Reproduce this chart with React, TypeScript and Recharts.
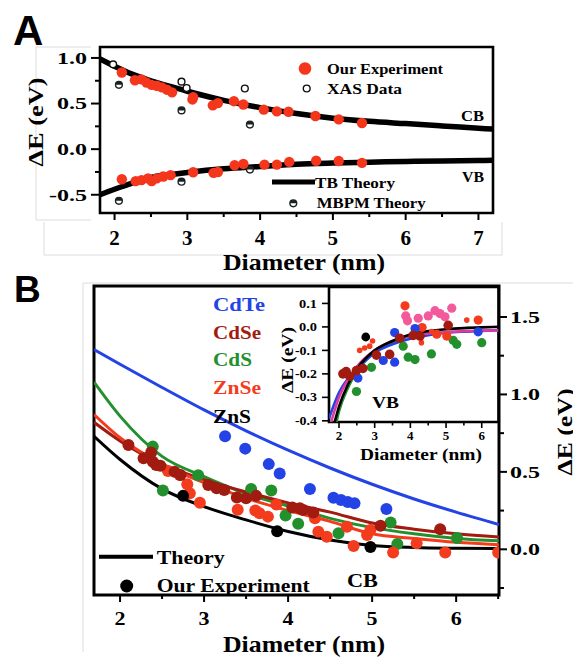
import { ComposedChart, Line, ReferenceArea, Scatter, XAxis, YAxis } from 'recharts';
import type { ReactNode } from 'react';

const SERIF = "'Liberation Serif', 'DejaVu Serif', 'Liberation Sans Narrow', 'Liberation Sans', sans-serif";
const SANS = "'Liberation Sans', Arial, Helvetica, sans-serif";

const RED = '#f4361c';
const CDTE = '#2343e6';
const CDSE = '#a11b10';
const CDS = '#23902e';
const ZNSE = '#f33b1d';
const PINK = '#f25a9c';
const MAGENTA = '#e2389e';

// ---------- panel A: CB / VB shifts ----------
const aXMajor = [2, 3, 4, 5, 6, 7];
const aXMinor = [2.5, 3.5, 4.5, 5.5, 6.5];
const aYMajor = [-0.5, 0, 0.5, 1];
const aYMinor = [-0.25, 0.25, 0.75];

const tbD = [1.8, 2.0, 2.25, 2.5, 2.75, 3.0, 3.5, 4.0, 4.5, 5.0, 5.5, 6.0, 6.5, 7.0, 7.2];
const tbCb = [0.99, 0.91, 0.82, 0.75, 0.69, 0.635, 0.535, 0.455, 0.39, 0.34, 0.305, 0.28, 0.255, 0.23, 0.22];
const tbVb = [-0.5, -0.44, -0.37, -0.31, -0.28, -0.255, -0.215, -0.19, -0.165, -0.152, -0.143, -0.135, -0.13, -0.125, -0.123];

const cbExpD = [2.1, 2.28, 2.37, 2.44, 2.51, 2.58, 2.65, 2.72, 2.79, 3.07, 3.08, 3.35, 3.42, 3.64, 3.77, 4.05, 4.23, 4.39, 4.76, 5.08, 5.4];
const cbExpE = [0.84, 0.755, 0.765, 0.73, 0.705, 0.695, 0.677, 0.652, 0.623, 0.545, 0.57, 0.48, 0.505, 0.526, 0.49, 0.433, 0.414, 0.41, 0.363, 0.327, 0.287];
const vbExpD = [2.1, 2.29, 2.37, 2.46, 2.51, 2.58, 2.67, 2.77, 3.08, 3.36, 3.42, 3.65, 3.77, 4.06, 4.23, 4.4, 4.77, 5.08, 5.4];
const vbExpE = [-0.33, -0.35, -0.34, -0.32, -0.35, -0.32, -0.3, -0.285, -0.253, -0.26, -0.25, -0.177, -0.162, -0.17, -0.17, -0.14, -0.127, -0.13, -0.15];

const xasD = [1.98, 2.92, 2.99, 3.79];
const xasE = [0.93, 0.74, 0.67, 0.665];
const mbpmD = [2.06, 2.92, 3.86, 2.06, 2.92, 3.86];
const mbpmE = [0.705, 0.425, 0.27, -0.567, -0.357, -0.224];

// ---------- panel B: CB shifts for five materials ----------
const bXMajor = [2, 3, 4, 5, 6];
const bXMinor = [2.5, 3.5, 4.5, 5.5, 6.5];
const bYMajor = [0, 0.5, 1, 1.5];
const bYMinor = [-0.25, 0.25, 0.75, 1.25];

const bCurveD = [1.69, 2.0, 2.5, 3.0, 3.5, 4.0, 4.5, 5.0, 5.5, 6.0, 6.51];
const cdTeTheory = [1.29, 1.195, 1.045, 0.9, 0.765, 0.64, 0.525, 0.42, 0.325, 0.24, 0.16];
const cdSTheory = [1.08, 0.86, 0.6, 0.47, 0.36, 0.28, 0.2, 0.14, 0.1, 0.07, 0.055];
const cdSeTheory = [0.82, 0.7, 0.55, 0.45, 0.37, 0.3, 0.24, 0.17, 0.13, 0.1, 0.08];
const znSeTheory = [0.87, 0.72, 0.55, 0.43, 0.33, 0.25, 0.18, 0.1, 0.07, 0.045, 0.03];
const znSTheory = [0.73, 0.58, 0.39, 0.275, 0.19, 0.115, 0.06, 0.025, 0.012, 0.007, 0.005];

const cdTeD = [3.25, 3.49, 3.77, 3.9, 4.26, 4.54, 4.63, 4.71, 4.79, 5.17];
const cdTeE = [0.73, 0.65, 0.55, 0.49, 0.39, 0.333, 0.318, 0.306, 0.298, 0.26];
const cdSeD = [2.1, 2.28, 2.37, 2.39, 2.43, 2.48, 2.65, 2.72, 3.05, 3.15, 3.24, 3.39, 3.5, 3.62, 4.05, 4.14, 4.18, 4.3, 5.1, 5.81];
const cdSeE = [0.674, 0.588, 0.625, 0.566, 0.545, 0.54, 0.5, 0.48, 0.415, 0.394, 0.383, 0.335, 0.33, 0.345, 0.27, 0.265, 0.254, 0.237, 0.152, 0.129];
const cdSD = [2.39, 2.51, 2.93, 3.56, 3.8, 3.97, 4.12, 4.6, 5.22, 5.3, 6.01];
const cdSE = [0.663, 0.38, 0.478, 0.39, 0.38, 0.218, 0.165, 0.103, 0.173, 0.034, 0.073];
const znSeD = [2.57, 2.71, 2.8, 2.83, 2.95, 3.4, 3.61, 3.66, 3.76, 3.86, 4.32, 4.36, 4.46, 4.7, 4.78, 4.94, 4.98, 5.25, 5.53, 5.87, 6.5];
const znSeE = [0.505, 0.48, 0.42, 0.362, 0.3, 0.255, 0.25, 0.233, 0.211, 0.29, 0.2, 0.114, 0.081, 0.146, 0.021, 0.092, 0.125, -0.02, 0.039, -0.02, -0.02];
const znSD = [2.75, 3.87, 4.98];
const znSE = [0.345, 0.117, 0.015];

// ---------- inset: VB shifts ----------
const iXMajor = [2, 3, 4, 5, 6];
const iXMinor = [2.5, 3.5, 4.5, 5.5];
const iYMajor = [-0.4, -0.3, -0.2, -0.1, 0, 0.1];

const iBlueD = [1.72, 2.0, 2.25, 2.5, 3.0, 3.5, 4.0, 4.5, 5.0, 5.5, 6.0, 6.47];
const iBlueE = [-0.39, -0.28, -0.22, -0.18, -0.11, -0.074, -0.05, -0.035, -0.025, -0.02, -0.017, -0.014];
const iPinkD = [1.78, 2.0, 2.25, 2.5, 3.0, 3.5, 4.0, 4.5, 5.0, 5.5, 6.0, 6.47];
const iPinkE = [-0.405, -0.3, -0.225, -0.17, -0.1, -0.06, -0.038, -0.028, -0.022, -0.018, -0.016, -0.015];
const iGreenD = [1.93, 2.0, 2.25, 2.5, 3.0, 3.5, 4.0, 4.5, 5.0];
const iGreenE = [-0.405, -0.36, -0.26, -0.19, -0.11, -0.065, -0.04, -0.03, -0.024];
const iBlackD = [1.88, 2.0, 2.25, 2.5, 3.0, 3.5, 4.0, 4.5, 5.0, 5.5, 6.0, 6.47];
const iBlackE = [-0.405, -0.34, -0.245, -0.18, -0.1, -0.06, -0.032, -0.018, -0.01, -0.005, -0.002, 0.0];

const iCdSeD = [2.11, 2.2, 2.3, 2.49, 2.67, 3.05, 3.42, 3.7, 4.08, 4.27, 5.06];
const iCdSeE = [-0.2, -0.19, -0.21, -0.186, -0.177, -0.12, -0.117, -0.048, -0.036, -0.039, 0.007];
const iCdTeD = [2.53, 3.24, 3.56, 3.56, 4.13, 5.9];
const iCdTeE = [-0.218, -0.143, -0.15, -0.024, -0.007, -0.021];
const iCdSD = [2.49, 2.91, 3.8, 3.94, 4.13, 4.59, 5.2, 5.3, 6.0];
const iCdSE = [-0.275, -0.172, -0.082, -0.129, -0.139, -0.115, -0.057, -0.074, -0.067];
const iZnSD = [2.75];
const iZnSE = [-0.043];
const iZnSeD = [3.85, 4.33, 4.74, 5.02, 5.9];
const iZnSeE = [0.09, -0.003, -0.031, -0.039, 0.029];
const iZnSeSmallD = [2.58, 2.72, 2.86, 2.94, 4.31, 4.6, 5.58];
const iZnSeSmallE = [-0.1, -0.09, -0.082, -0.06, -0.067, -0.02, 0.029];
const iPinkPtD = [3.87, 3.92, 4.22, 4.5, 4.69, 4.83, 4.97, 5.16];
const iPinkPtE = [0.047, 0.026, 0.037, 0.047, 0.069, 0.057, 0.043, 0.08];

const pts = (xs: number[], ys: number[]) => xs.map((x, i) => ({ x, y: ys[i] }));

// fixed-width bold text, so the labels keep their extent whatever face is picked
function T({ w, children, ...rest }: { w: number; children: ReactNode; [k: string]: any }) {
  return (
    <text textLength={w} lengthAdjust="spacingAndGlyphs" {...rest}>
      {children}
    </text>
  );
}

type Side = 'bottom' | 'left' | 'right';
interface TickStyle {
  side: Side;
  majors: number[];
  fontSize: number;
  majorLen: number;
  minorLen: number;
  gap: number;
  width: number;
  digitW: number;
  dotW: number;
}

function axisTick(s: TickStyle) {
  return function AxisTick(props: any) {
    const { x, y, payload } = props;
    const v = Number(payload.value);
    const major = s.majors.some((m) => Math.abs(m - v) < 1e-6);
    const len = major ? s.majorLen : s.minorLen;
    const label = !major ? '' : s.side === 'bottom' ? String(v) : v.toFixed(1);
    const w = [...label].reduce((acc, ch) => acc + (/\d/.test(ch) ? s.digitW : s.dotW), 0);
    const style = { fontFamily: SERIF, fontWeight: 700, fontSize: s.fontSize };
    const lengthProps = label ? { textLength: w, lengthAdjust: 'spacingAndGlyphs' } : {};
    if (s.side === 'bottom') {
      return (
        <g>
          <line x1={x} x2={x} y1={y} y2={y + len} stroke="#000" strokeWidth={s.width} />
          <text x={x} y={y + s.gap} textAnchor="middle" fill="#000" style={style} {...lengthProps}>{label}</text>
        </g>
      );
    }
    const dir = s.side === 'left' ? -1 : 1;
    return (
      <g>
        <line x1={x} x2={x + dir * len} y1={y} y2={y} stroke="#000" strokeWidth={s.width} />
        <text x={x + dir * s.gap} y={y + s.fontSize * 0.36} textAnchor={dir < 0 ? 'end' : 'start'} fill="#000" style={style} {...lengthProps}>{label}</text>
      </g>
    );
  };
}

const disc = (r: number, fill: string) => (p: any) => <circle cx={p.cx} cy={p.cy} r={r} fill={fill} />;
const ring = (p: any) => <circle cx={p.cx} cy={p.cy} r={3.4} fill="#fff" stroke="#111" strokeWidth={1.4} />;
const halfRing = (p: any) => (
  <g>
    <circle cx={p.cx} cy={p.cy} r={3.4} fill="#fff" stroke="#1a2222" strokeWidth={1.4} />
    <path d={`M${p.cx - 3.4},${p.cy} A3.4,3.4 0 0 1 ${p.cx + 3.4},${p.cy} Z`} fill="#1a2222" />
  </g>
);

function PanelA() {
  const xDom: [number, number] = [1.8, 7.2];
  const yDom: [number, number] = [-0.7, 1.12];
  return (
    <div style={{ position: 'absolute', left: 0, top: 0 }}>
      <ComposedChart width={573} height={290} margin={{ top: 47, right: 80, bottom: 0, left: 0 }}>
        <XAxis
          dataKey="x"
          type="number"
          domain={xDom}
          ticks={[...aXMajor, ...aXMinor]}
          interval={0}
          height={77}
          tickSize={0}
          tickMargin={0}
          tickLine={false}
          axisLine={false}
          allowDataOverflow
          tick={axisTick({ side: 'bottom', majors: aXMajor, fontSize: 20, majorLen: 7, minorLen: 4, gap: 32, width: 2, digitW: 10.5, dotW: 5 })}
        />
        <YAxis
          dataKey="y"
          type="number"
          domain={yDom}
          ticks={[...aYMajor, ...aYMinor]}
          interval={0}
          width={100}
          tickSize={0}
          tickMargin={0}
          tickLine={false}
          axisLine={false}
          allowDataOverflow
          tick={axisTick({ side: 'left', majors: aYMajor, fontSize: 16, majorLen: 9, minorLen: 5, gap: 13, width: 2, digitW: 11, dotW: 8 })}
        />
        <ReferenceArea x1={xDom[0]} x2={xDom[1]} y1={yDom[0]} y2={yDom[1]} fill="none" stroke="#000" strokeWidth={2.6} ifOverflow="visible" />
        <Line data={pts(tbD, tbCb)} dataKey="y" type="monotone" stroke="#000" strokeWidth={5.5} dot={false} isAnimationActive={false} />
        <Line data={pts(tbD, tbVb)} dataKey="y" type="monotone" stroke="#000" strokeWidth={5.5} dot={false} isAnimationActive={false} />
        <Scatter data={pts(xasD, xasE)} dataKey="y" shape={ring} isAnimationActive={false} />
        <Scatter data={pts(mbpmD, mbpmE)} dataKey="y" shape={halfRing} isAnimationActive={false} />
        <Scatter data={pts(cbExpD, cbExpE)} dataKey="y" shape={disc(5.2, RED)} isAnimationActive={false} />
        <Scatter data={pts(vbExpD, vbExpE)} dataKey="y" shape={disc(5.2, RED)} isAnimationActive={false} />
      </ComposedChart>
    </div>
  );
}

function PanelB() {
  const xDom: [number, number] = [1.69, 6.51];
  const yDom: [number, number] = [-0.295, 1.7];
  const curves: [number[], string][] = [
    [cdTeTheory, CDTE],
    [cdSTheory, CDS],
    [cdSeTheory, CDSE],
    [znSeTheory, ZNSE],
    [znSTheory, '#000'],
  ];
  const dots: [number[], number[], string][] = [
    [cdSD, cdSE, CDS],
    [znSeD, znSeE, ZNSE],
    [cdSeD, cdSeE, CDSE],
    [cdTeD, cdTeE, CDTE],
    [znSD, znSE, '#000'],
  ];
  return (
    <div style={{ position: 'absolute', left: 0, top: 270 }}>
      <ComposedChart width={573} height={387} margin={{ top: 16, right: 0, bottom: 0, left: 94 }}>
        <XAxis
          dataKey="x"
          type="number"
          domain={xDom}
          ticks={[...bXMajor, ...bXMinor]}
          interval={0}
          height={62}
          tickSize={0}
          tickMargin={0}
          tickLine={false}
          axisLine={false}
          allowDataOverflow
          tick={axisTick({ side: 'bottom', majors: bXMajor, fontSize: 19, majorLen: 7, minorLen: 4, gap: 30, width: 2, digitW: 11, dotW: 5 })}
        />
        <YAxis
          dataKey="y"
          type="number"
          orientation="right"
          domain={yDom}
          ticks={[...bYMajor, ...bYMinor]}
          interval={0}
          width={74}
          tickSize={0}
          tickMargin={0}
          tickLine={false}
          axisLine={false}
          allowDataOverflow
          tick={axisTick({ side: 'right', majors: bYMajor, fontSize: 16.5, majorLen: 8, minorLen: 5, gap: 11, width: 2, digitW: 11, dotW: 8 })}
        />
        {curves.map(([ys, c], i) => (
          <Line key={`c${i}`} data={pts(bCurveD, ys)} dataKey="y" type="monotone" stroke={c} strokeWidth={3} dot={false} isAnimationActive={false} />
        ))}
        {dots.map(([xs, ys, c], i) => (
          <Scatter key={`d${i}`} data={pts(xs, ys)} dataKey="y" shape={disc(6, c)} isAnimationActive={false} />
        ))}
        <ReferenceArea x1={xDom[0]} x2={xDom[1]} y1={yDom[0]} y2={yDom[1]} fill="none" stroke="#000" strokeWidth={3} ifOverflow="visible" />
      </ComposedChart>
    </div>
  );
}

function Inset() {
  const xDom: [number, number] = [1.72, 6.47];
  const yDom: [number, number] = [-0.405, 0.17];
  const curves: [number[], number[], string][] = [
    [iGreenD, iGreenE, CDS],
    [iBlueD, iBlueE, CDTE],
    [iPinkD, iPinkE, MAGENTA],
    [iBlackD, iBlackE, '#000'],
  ];
  const dots: [number[], number[], string, number][] = [
    [iCdSD, iCdSE, CDS, 4.6],
    [iPinkPtD, iPinkPtE, PINK, 4.6],
    [iZnSeD, iZnSeE, ZNSE, 4.6],
    [iZnSeSmallD, iZnSeSmallE, ZNSE, 2.8],
    [iCdTeD, iCdTeE, CDTE, 4.6],
    [iCdSeD, iCdSeE, CDSE, 4.8],
    [iZnSD, iZnSE, '#000', 4.4],
  ];
  return (
    <div style={{ position: 'absolute', left: 280, top: 280 }}>
      <ComposedChart width={220} height={190} margin={{ top: 7, right: 1.5, bottom: 0, left: 0 }}>
        <XAxis
          dataKey="x"
          type="number"
          domain={xDom}
          ticks={[...iXMajor, ...iXMinor]}
          interval={0}
          height={48}
          tickSize={0}
          tickMargin={0}
          tickLine={false}
          axisLine={false}
          allowDataOverflow
          tick={axisTick({ side: 'bottom', majors: iXMajor, fontSize: 12, majorLen: 6, minorLen: 3.5, gap: 18, width: 1.6, digitW: 6.5, dotW: 3 })}
        />
        <YAxis
          dataKey="y"
          type="number"
          domain={yDom}
          ticks={iYMajor}
          interval={0}
          width={49}
          tickSize={0}
          tickMargin={0}
          tickLine={false}
          axisLine={false}
          allowDataOverflow
          tick={axisTick({ side: 'left', majors: iYMajor, fontSize: 11.5, majorLen: 7, minorLen: 4, gap: 12, width: 1.6, digitW: 7, dotW: 4 })}
        />
        <ReferenceArea x1={xDom[0]} x2={xDom[1]} y1={yDom[0]} y2={yDom[1]} fill="#fff" stroke="none" ifOverflow="visible" />
        {curves.map(([xs, ys, c], i) => (
          <Line key={`c${i}`} data={pts(xs, ys)} dataKey="y" type="monotone" stroke={c} strokeWidth={2.6} dot={false} isAnimationActive={false} />
        ))}
        {dots.map(([xs, ys, c, r], i) => (
          <Scatter key={`d${i}`} data={pts(xs, ys)} dataKey="y" shape={disc(r, c)} isAnimationActive={false} />
        ))}
        <ReferenceArea x1={xDom[0]} x2={xDom[1]} y1={yDom[0]} y2={yDom[1]} fill="none" stroke="#000" strokeWidth={2.6} ifOverflow="visible" />
      </ComposedChart>
    </div>
  );
}

function Labels() {
  const serif = { fontFamily: SERIF, fontWeight: 700 };
  const sans = { fontFamily: SANS, fontWeight: 700 };
  return (
    <svg width={573} height={657} style={{ position: 'absolute', left: 0, top: 0, pointerEvents: 'none' }}>
      {/* faint scan borders around the panels */}
      <g stroke="#dcdcdc" strokeWidth={1} fill="none">
        <polyline points="91,47 36,47 36,220 91,220" />
        <polyline points="44,222 44,255 502,255 502,222" />
        <polyline points="83,652 83,283 573,283" />
      </g>
      <g fill="#000" style={serif}>
        <text x={13} y={45} fontSize={42} style={sans}>A</text>
        <text x={14} y={302} fontSize={37} style={sans}>B</text>

        {/* panel A */}
        <T w={89} transform="translate(43,122) rotate(-90)" textAnchor="middle" fontSize={22}>ΔE (eV)</T>
        <T w={162} x={304} y={270} textAnchor="middle" fontSize={23}>Diameter (nm)</T>
        <circle cx={305} cy={68.5} r={6.3} fill={RED} />
        <T w={116} x={327} y={73.5} fontSize={15.5}>Our Experiment</T>
        <circle cx={306.7} cy={88.5} r={3.4} fill="#fff" stroke="#111" strokeWidth={1.4} />
        <T w={75} x={327} y={94} fontSize={15.5}>XAS Data</T>
        <T w={23} x={461} y={121} fontSize={15.5}>CB</T>
        <T w={22} x={462} y={182} fontSize={15.5}>VB</T>
        <line x1={272} x2={315} y1={182} y2={182} stroke="#000" strokeWidth={5} />
        <T w={80} x={315} y={188.3} fontSize={15.5}>TB Theory</T>
        <circle cx={293.3} cy={203.3} r={3.4} fill="#fff" stroke="#1a2222" strokeWidth={1.4} />
        <path d="M289.9,203.3 A3.4,3.4 0 0 1 296.7,203.3 Z" fill="#1a2222" />
        <T w={109} x={316.7} y={208.3} fontSize={15.5}>MBPM Theory</T>

        {/* panel B */}
        <T w={52} x={213} y={311} fontSize={19} fill={CDTE}>CdTe</T>
        <T w={48} x={213} y={338.5} fontSize={19} fill={CDSE}>CdSe</T>
        <T w={39} x={213} y={366} fontSize={19} fill={CDS}>CdS</T>
        <T w={48} x={213} y={394} fontSize={19} fill={ZNSE}>ZnSe</T>
        <T w={38} x={213} y={422.5} fontSize={19}>ZnS</T>
        <line x1={99} x2={153} y1={556.7} y2={556.7} stroke="#000" strokeWidth={4} />
        <T w={68} x={156.7} y={564} fontSize={19}>Theory</T>
        <circle cx={126.7} cy={586} r={6.5} fill="#000" />
        <T w={153} x={156.7} y={592} fontSize={19}>Our Experiment</T>
        <T w={31} x={347} y={587} fontSize={19}>CB</T>
        <T w={162} x={304} y={652} textAnchor="middle" fontSize={23}>Diameter (nm)</T>
        <T w={87} transform="translate(572,432) rotate(-90)" textAnchor="middle" fontSize={22}>ΔE (eV)</T>

        {/* inset */}
        <T w={66} transform="translate(293,360) rotate(-90)" textAnchor="middle" fontSize={17}>ΔE (eV)</T>
        <T w={122} x={421} y={460} textAnchor="middle" fontSize={17}>Diameter (nm)</T>
        <T w={27} x={372} y={408} fontSize={16}>VB</T>
      </g>
    </svg>
  );
}

export default function App() {
  return (
    <div style={{ position: 'absolute', left: 0, top: 0, width: 573, height: 657, background: '#fff', overflow: 'hidden' }}>
      <PanelA />
      <PanelB />
      <Inset />
      <Labels />
    </div>
  );
}
